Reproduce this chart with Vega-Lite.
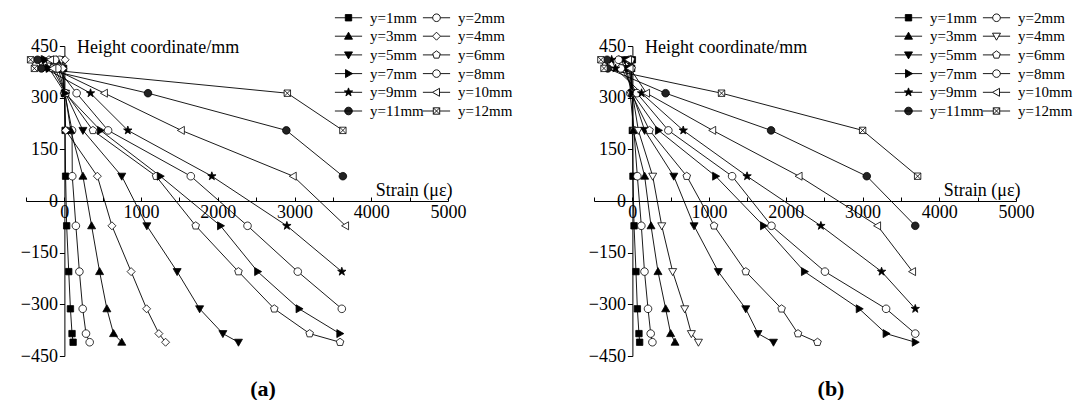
{
  "$schema": "https://vega.github.io/schema/vega-lite/v6.json",
  "background": "white",
  "padding": {"left": 20, "top": 10, "right": 0, "bottom": 0},
  "bounds": "flush",
  "spacing": 146,
  "config": {
    "font": "Liberation Serif, Times New Roman, serif",
    "view": {"stroke": null},
    "axis": {"grid": false, "domainColor": "black", "domainWidth": 1, "tickColor": "black", "tickWidth": 1, "labelColor": "black", "labelFont": "Liberation Serif, Times New Roman, serif", "labelFontSize": 18, "titleFont": "Liberation Serif, Times New Roman, serif", "titleFontSize": 18, "titleFontWeight": "normal", "titleColor": "black", "labelOverlap": false, "labelFlush": false},
    "legend": {"labelFont": "Liberation Serif, Times New Roman, serif", "labelFontSize": 15, "labelColor": "black", "symbolStrokeWidth": 0.9, "symbolOpacity": 1, "symbolSize": 64}
  },
  "datasets": {
    "a": [
      {"s":"y=1mm","x":-30,"h":410},{"s":"y=1mm","x":-10,"h":385},{"s":"y=1mm","x":0,"h":313},{"s":"y=1mm","x":10,"h":205},{"s":"y=1mm","x":16,"h":72},{"s":"y=1mm","x":30,"h":-72},{"s":"y=1mm","x":57,"h":-205},{"s":"y=1mm","x":79,"h":-313},{"s":"y=1mm","x":100,"h":-385},{"s":"y=1mm","x":114,"h":-410},
      {"s":"y=2mm","x":-60,"h":410},{"s":"y=2mm","x":-40,"h":385},{"s":"y=2mm","x":5,"h":313},{"s":"y=2mm","x":100,"h":205},{"s":"y=2mm","x":103,"h":72},{"s":"y=2mm","x":150,"h":-72},{"s":"y=2mm","x":196,"h":-205},{"s":"y=2mm","x":239,"h":-313},{"s":"y=2mm","x":282,"h":-385},{"s":"y=2mm","x":330,"h":-410},
      {"s":"y=3mm","x":-100,"h":410},{"s":"y=3mm","x":-80,"h":385},{"s":"y=3mm","x":10,"h":313},{"s":"y=3mm","x":83,"h":205},{"s":"y=3mm","x":242,"h":72},{"s":"y=3mm","x":355,"h":-72},{"s":"y=3mm","x":459,"h":-205},{"s":"y=3mm","x":554,"h":-313},{"s":"y=3mm","x":641,"h":-385},{"s":"y=3mm","x":748,"h":-410},
      {"s":"y=4mm","x":10,"h":410},{"s":"y=4mm","x":-20,"h":385},{"s":"y=4mm","x":0,"h":313},{"s":"y=4mm","x":18,"h":205},{"s":"y=4mm","x":430,"h":72},{"s":"y=4mm","x":620,"h":-72},{"s":"y=4mm","x":870,"h":-205},{"s":"y=4mm","x":1072,"h":-313},{"s":"y=4mm","x":1232,"h":-385},{"s":"y=4mm","x":1319,"h":-410},
      {"s":"y=5mm","x":-150,"h":410},{"s":"y=5mm","x":-120,"h":385},{"s":"y=5mm","x":15,"h":313},{"s":"y=5mm","x":242,"h":205},{"s":"y=5mm","x":748,"h":72},{"s":"y=5mm","x":1075,"h":-72},{"s":"y=5mm","x":1470,"h":-205},{"s":"y=5mm","x":1763,"h":-313},{"s":"y=5mm","x":2066,"h":-385},{"s":"y=5mm","x":2269,"h":-410},
      {"s":"y=6mm","x":-200,"h":410},{"s":"y=6mm","x":-160,"h":385},{"s":"y=6mm","x":20,"h":313},{"s":"y=6mm","x":372,"h":205},{"s":"y=6mm","x":1195,"h":72},{"s":"y=6mm","x":1712,"h":-72},{"s":"y=6mm","x":2269,"h":-205},{"s":"y=6mm","x":2736,"h":-313},{"s":"y=6mm","x":3197,"h":-385},{"s":"y=6mm","x":3593,"h":-410},
      {"s":"y=7mm","x":-250,"h":410},{"s":"y=7mm","x":-200,"h":385},{"s":"y=7mm","x":10,"h":313},{"s":"y=7mm","x":471,"h":205},{"s":"y=7mm","x":1250,"h":72},{"s":"y=7mm","x":2035,"h":-72},{"s":"y=7mm","x":2519,"h":-205},{"s":"y=7mm","x":3059,"h":-313},{"s":"y=7mm","x":3590,"h":-385},
      {"s":"y=8mm","x":-120,"h":410},{"s":"y=8mm","x":-90,"h":385},{"s":"y=8mm","x":160,"h":313},{"s":"y=8mm","x":570,"h":205},{"s":"y=8mm","x":1648,"h":72},{"s":"y=8mm","x":2387,"h":-72},{"s":"y=8mm","x":3042,"h":-205},{"s":"y=8mm","x":3616,"h":-313},
      {"s":"y=9mm","x":-300,"h":410},{"s":"y=9mm","x":-250,"h":385},{"s":"y=9mm","x":341,"h":313},{"s":"y=9mm","x":827,"h":205},{"s":"y=9mm","x":1922,"h":72},{"s":"y=9mm","x":2900,"h":-72},{"s":"y=9mm","x":3616,"h":-205},
      {"s":"y=10mm","x":-180,"h":410},{"s":"y=10mm","x":-150,"h":385},{"s":"y=10mm","x":522,"h":313},{"s":"y=10mm","x":1525,"h":205},{"s":"y=10mm","x":2983,"h":72},{"s":"y=10mm","x":3665,"h":-72},
      {"s":"y=11mm","x":-350,"h":410},{"s":"y=11mm","x":-300,"h":385},{"s":"y=11mm","x":1090,"h":313},{"s":"y=11mm","x":2893,"h":205},{"s":"y=11mm","x":3630,"h":72},
      {"s":"y=12mm","x":-440,"h":410},{"s":"y=12mm","x":-390,"h":385},{"s":"y=12mm","x":2906,"h":313},{"s":"y=12mm","x":3630,"h":205}
    ],
    "b": [
      {"s":"y=1mm","x":0,"h":410},{"s":"y=1mm","x":-10,"h":385},{"s":"y=1mm","x":0,"h":313},{"s":"y=1mm","x":0,"h":205},{"s":"y=1mm","x":8,"h":72},{"s":"y=1mm","x":22,"h":-72},{"s":"y=1mm","x":47,"h":-205},{"s":"y=1mm","x":65,"h":-313},{"s":"y=1mm","x":86,"h":-385},{"s":"y=1mm","x":95,"h":-410},
      {"s":"y=2mm","x":-40,"h":410},{"s":"y=2mm","x":-30,"h":385},{"s":"y=2mm","x":-30,"h":313},{"s":"y=2mm","x":20,"h":205},{"s":"y=2mm","x":65,"h":72},{"s":"y=2mm","x":117,"h":-72},{"s":"y=2mm","x":158,"h":-205},{"s":"y=2mm","x":204,"h":-313},{"s":"y=2mm","x":239,"h":-385},{"s":"y=2mm","x":261,"h":-410},
      {"s":"y=3mm","x":-20,"h":410},{"s":"y=3mm","x":-20,"h":385},{"s":"y=3mm","x":0,"h":313},{"s":"y=3mm","x":10,"h":205},{"s":"y=3mm","x":160,"h":72},{"s":"y=3mm","x":243,"h":-72},{"s":"y=3mm","x":334,"h":-205},{"s":"y=3mm","x":434,"h":-313},{"s":"y=3mm","x":499,"h":-385},{"s":"y=3mm","x":556,"h":-410},
      {"s":"y=4mm","x":-60,"h":410},{"s":"y=4mm","x":-40,"h":385},{"s":"y=4mm","x":0,"h":313},{"s":"y=4mm","x":78,"h":205},{"s":"y=4mm","x":265,"h":72},{"s":"y=4mm","x":383,"h":-72},{"s":"y=4mm","x":525,"h":-205},{"s":"y=4mm","x":682,"h":-313},{"s":"y=4mm","x":769,"h":-385},{"s":"y=4mm","x":861,"h":-410},
      {"s":"y=5mm","x":-100,"h":410},{"s":"y=5mm","x":-80,"h":385},{"s":"y=5mm","x":0,"h":313},{"s":"y=5mm","x":160,"h":205},{"s":"y=5mm","x":540,"h":72},{"s":"y=5mm","x":804,"h":-72},{"s":"y=5mm","x":1120,"h":-205},{"s":"y=5mm","x":1478,"h":-313},{"s":"y=5mm","x":1638,"h":-385},{"s":"y=5mm","x":1839,"h":-410},
      {"s":"y=6mm","x":-20,"h":410},{"s":"y=6mm","x":-10,"h":385},{"s":"y=6mm","x":-15,"h":313},{"s":"y=6mm","x":224,"h":205},{"s":"y=6mm","x":709,"h":72},{"s":"y=6mm","x":1065,"h":-72},{"s":"y=6mm","x":1478,"h":-205},{"s":"y=6mm","x":1945,"h":-313},{"s":"y=6mm","x":2159,"h":-385},{"s":"y=6mm","x":2413,"h":-410},
      {"s":"y=7mm","x":-140,"h":410},{"s":"y=7mm","x":-100,"h":385},{"s":"y=7mm","x":0,"h":313},{"s":"y=7mm","x":340,"h":205},{"s":"y=7mm","x":1085,"h":72},{"s":"y=7mm","x":1709,"h":-72},{"s":"y=7mm","x":2243,"h":-205},{"s":"y=7mm","x":2957,"h":-313},{"s":"y=7mm","x":3307,"h":-385},{"s":"y=7mm","x":3687,"h":-410},
      {"s":"y=8mm","x":-180,"h":410},{"s":"y=8mm","x":-150,"h":385},{"s":"y=8mm","x":60,"h":313},{"s":"y=8mm","x":469,"h":205},{"s":"y=8mm","x":1300,"h":72},{"s":"y=8mm","x":1813,"h":-72},{"s":"y=8mm","x":2510,"h":-205},{"s":"y=8mm","x":3307,"h":-313},{"s":"y=8mm","x":3687,"h":-385},
      {"s":"y=9mm","x":-270,"h":410},{"s":"y=9mm","x":-220,"h":385},{"s":"y=9mm","x":120,"h":313},{"s":"y=9mm","x":663,"h":205},{"s":"y=9mm","x":1495,"h":72},{"s":"y=9mm","x":2457,"h":-72},{"s":"y=9mm","x":3248,"h":-205},{"s":"y=9mm","x":3687,"h":-313},
      {"s":"y=10mm","x":-50,"h":410},{"s":"y=10mm","x":-30,"h":385},{"s":"y=10mm","x":185,"h":313},{"s":"y=10mm","x":1047,"h":205},{"s":"y=10mm","x":2173,"h":72},{"s":"y=10mm","x":3196,"h":-72},{"s":"y=10mm","x":3652,"h":-205},
      {"s":"y=11mm","x":-330,"h":410},{"s":"y=11mm","x":-320,"h":385},{"s":"y=11mm","x":433,"h":313},{"s":"y=11mm","x":1808,"h":205},{"s":"y=11mm","x":3055,"h":72},{"s":"y=11mm","x":3687,"h":-72},
      {"s":"y=12mm","x":-410,"h":410},{"s":"y=12mm","x":-370,"h":385},{"s":"y=12mm","x":1162,"h":313},{"s":"y=12mm","x":3001,"h":205},{"s":"y=12mm","x":3718,"h":72}
    ]
  },
  "hconcat": [
    {
      "width": 422, "height": 310,
      "data": {"name": "a"},
      "title": {"text": "(a)", "orient": "bottom", "anchor": "middle", "frame": "group", "dx": 26, "offset": 14, "fontSize": 22, "fontWeight": "bold", "font": "Liberation Serif, Times New Roman, serif", "color": "black"},
      "encoding": {
        "x": {"field": "x", "type": "quantitative", "scale": {"domain": [-500, 5000], "nice": false, "zero": false},
          "axis": {"values": [-500,0,500,1000,1500,2000,2500,3000,3500,4000,4500,5000], "format": "d", "labelExpr": "(datum.value >= 0 && datum.value % 1000 == 0) ? datum.label : ''", "offset": -155, "tickSize": -4, "labelPadding": 6, "title": "Strain (με)", "titleAngle": 0, "titleAlign": "right", "titleBaseline": "middle", "titleX": 426, "titleY": -11}},
        "y": {"field": "h", "type": "quantitative", "scale": {"domain": [-450, 450], "nice": false},
          "axis": {"values": [-450,-300,-150,0,150,300,450], "format": "d", "offset": -38.4, "tickSize": 5, "labelPadding": 2, "title": "Height coordinate/mm", "titleAngle": 0, "titleAlign": "left", "titleBaseline": "middle", "titleX": 12, "titleY": 1}}
      },
      "layer": [
        {"mark": {"type": "line", "color": "black", "strokeWidth": 0.9}, "encoding": {"detail": {"field": "s"}, "order": {"field": "h", "sort": "descending"}}},
        {"mark": {"type": "point", "size": 64, "strokeWidth": 0.8, "opacity": 1},
          "encoding": {
            "shape": {"field": "s", "type": "nominal", "legend": null,
              "scale": {"domain": ["y=1mm","y=2mm","y=3mm","y=4mm","y=5mm","y=6mm","y=7mm","y=8mm","y=9mm","y=10mm","y=11mm","y=12mm"],
                "range": ["M-0.8,-0.8H0.8V0.8H-0.8Z", "M-0.95,0A0.95,0.95,0,1,0,0.95,0A0.95,0.95,0,1,0,-0.95,0Z", "M0,-1L1,0.75H-1Z", "M0,-1L1,0L0,1L-1,0Z", "M0,1L1,-0.75H-1Z", "M0,-1L0.951,-0.309L0.588,0.809L-0.588,0.809L-0.951,-0.309Z", "M1,0L-0.75,-1V1Z", "M-0.95,0A0.95,0.95,0,1,0,0.95,0A0.95,0.95,0,1,0,-0.95,0Z", "M0,-1.1L0.26,-0.36L1.05,-0.34L0.42,0.14L0.65,0.89L0,0.44L-0.65,0.89L-0.42,0.14L-1.05,-0.34L-0.26,-0.36Z", "M-1,0L0.75,-1V1Z", "M-0.95,0A0.95,0.95,0,1,0,0.95,0A0.95,0.95,0,1,0,-0.95,0Z", "M-0.8,-0.8H0.8V0.8H-0.8ZM-0.8,-0.8L0.8,0.8M0.8,-0.8L-0.8,0.8"]}},
            "fill": {"field": "s", "type": "nominal", "legend": null,
              "scale": {"domain": ["y=1mm","y=2mm","y=3mm","y=4mm","y=5mm","y=6mm","y=7mm","y=8mm","y=9mm","y=10mm","y=11mm","y=12mm"],
                "range": ["black","white","black","white","black","white","black","white","black","white","#222","white"]}},
            "stroke": {"value": "black"}
          }},
        {"transform": [{"filter": "datum.h == -72 && datum.x > 1000 && datum.x < 3000"}],
          "mark": {"type": "point", "size": 64, "strokeWidth": 0.9, "opacity": 0},
          "encoding": {
            "shape": {"field": "s", "type": "nominal",
              "scale": {"domain": ["y=1mm","y=2mm","y=3mm","y=4mm","y=5mm","y=6mm","y=7mm","y=8mm","y=9mm","y=10mm","y=11mm","y=12mm"],
                "range": ["M-3.4,0H3.4M-0.8,-0.8H0.8V0.8H-0.8Z","M-3.4,0H-0.95M0.95,0H3.4M-0.95,0A0.95,0.95,0,1,0,0.95,0A0.95,0.95,0,1,0,-0.95,0Z","M-3.4,0H3.4M0,-1L1,0.75H-1Z","M-3.4,0H-1M1,0H3.4M0,-1L1,0L0,1L-1,0Z","M-3.4,0H3.4M0,1L1,-0.75H-1Z","M-3.4,0H-0.85M0.85,0H3.4M0,-1L0.951,-0.309L0.588,0.809L-0.588,0.809L-0.951,-0.309Z","M-3.4,0H3.4M1,0L-0.75,-1V1Z","M-3.4,0H-0.95M0.95,0H3.4M-0.95,0A0.95,0.95,0,1,0,0.95,0A0.95,0.95,0,1,0,-0.95,0Z","M-3.4,0H3.4M0,-1.1L0.26,-0.36L1.05,-0.34L0.42,0.14L0.65,0.89L0,0.44L-0.65,0.89L-0.42,0.14L-1.05,-0.34L-0.26,-0.36Z","M-3.4,0H-1M0.75,0H3.4M-1,0L0.75,-1V1Z","M-3.4,0H3.4M-0.95,0A0.95,0.95,0,1,0,0.95,0A0.95,0.95,0,1,0,-0.95,0Z","M-3.4,0H-0.8M0.8,0H3.4M-0.8,-0.8H0.8V0.8H-0.8ZM-0.8,-0.8L0.8,0.8M0.8,-0.8L-0.8,0.8"]},
              "legend": {"title": null, "orient": "none", "legendX": 315, "legendY": -36, "columns": 2, "direction": "horizontal", "labelOffset": 14, "rowPadding": 2.7, "columnPadding": -3}},
            "fill": {"field": "s", "type": "nominal",
              "scale": {"domain": ["y=1mm","y=2mm","y=3mm","y=4mm","y=5mm","y=6mm","y=7mm","y=8mm","y=9mm","y=10mm","y=11mm","y=12mm"],
                "range": ["black","white","black","white","black","white","black","white","black","white","#222","white"]}},
            "stroke": {"field": "s", "type": "nominal",
              "scale": {"domain": ["y=1mm","y=2mm","y=3mm","y=4mm","y=5mm","y=6mm","y=7mm","y=8mm","y=9mm","y=10mm","y=11mm","y=12mm"],
                "range": ["black","black","black","black","black","black","black","black","black","black","black","black"]}}
          }}
      ],
      "resolve": {"scale": {"shape": "independent", "fill": "independent", "stroke": "independent"}, "legend": {"shape": "independent", "fill": "independent", "stroke": "independent"}}
    },
    {
      "width": 422, "height": 310,
      "data": {"name": "b"},
      "title": {"text": "(b)", "orient": "bottom", "anchor": "middle", "frame": "group", "dx": 26, "offset": 14, "fontSize": 22, "fontWeight": "bold", "font": "Liberation Serif, Times New Roman, serif", "color": "black"},
      "encoding": {
        "x": {"field": "x", "type": "quantitative", "scale": {"domain": [-500, 5000], "nice": false, "zero": false},
          "axis": {"values": [-500,0,500,1000,1500,2000,2500,3000,3500,4000,4500,5000], "format": "d", "labelExpr": "(datum.value >= 0 && datum.value % 1000 == 0) ? datum.label : ''", "offset": -155, "tickSize": -4, "labelPadding": 6, "title": "Strain (με)", "titleAngle": 0, "titleAlign": "right", "titleBaseline": "middle", "titleX": 426, "titleY": -11}},
        "y": {"field": "h", "type": "quantitative", "scale": {"domain": [-450, 450], "nice": false},
          "axis": {"values": [-450,-300,-150,0,150,300,450], "format": "d", "offset": -38.4, "tickSize": 5, "labelPadding": 2, "title": "Height coordinate/mm", "titleAngle": 0, "titleAlign": "left", "titleBaseline": "middle", "titleX": 12, "titleY": 1}}
      },
      "layer": [
        {"mark": {"type": "line", "color": "black", "strokeWidth": 0.9}, "encoding": {"detail": {"field": "s"}, "order": {"field": "h", "sort": "descending"}}},
        {"mark": {"type": "point", "size": 64, "strokeWidth": 0.8, "opacity": 1},
          "encoding": {
            "shape": {"field": "s", "type": "nominal", "legend": null,
              "scale": {"domain": ["y=1mm","y=2mm","y=3mm","y=4mm","y=5mm","y=6mm","y=7mm","y=8mm","y=9mm","y=10mm","y=11mm","y=12mm"],
                "range": ["M-0.8,-0.8H0.8V0.8H-0.8Z", "M-0.95,0A0.95,0.95,0,1,0,0.95,0A0.95,0.95,0,1,0,-0.95,0Z", "M0,-1L1,0.75H-1Z", "M0,1L1,-0.75H-1Z", "M0,1L1,-0.75H-1Z", "M0,-1L0.951,-0.309L0.588,0.809L-0.588,0.809L-0.951,-0.309Z", "M1,0L-0.75,-1V1Z", "M-0.95,0A0.95,0.95,0,1,0,0.95,0A0.95,0.95,0,1,0,-0.95,0Z", "M0,-1.1L0.26,-0.36L1.05,-0.34L0.42,0.14L0.65,0.89L0,0.44L-0.65,0.89L-0.42,0.14L-1.05,-0.34L-0.26,-0.36Z", "M-1,0L0.75,-1V1Z", "M-0.95,0A0.95,0.95,0,1,0,0.95,0A0.95,0.95,0,1,0,-0.95,0Z", "M-0.8,-0.8H0.8V0.8H-0.8ZM-0.8,-0.8L0.8,0.8M0.8,-0.8L-0.8,0.8"]}},
            "fill": {"field": "s", "type": "nominal", "legend": null,
              "scale": {"domain": ["y=1mm","y=2mm","y=3mm","y=4mm","y=5mm","y=6mm","y=7mm","y=8mm","y=9mm","y=10mm","y=11mm","y=12mm"],
                "range": ["black","white","black","white","black","white","black","white","black","white","#222","white"]}},
            "stroke": {"value": "black"}
          }},
        {"transform": [{"filter": "datum.h == -72 && datum.x > 1000 && datum.x < 3000"}],
          "mark": {"type": "point", "size": 64, "strokeWidth": 0.9, "opacity": 0},
          "encoding": {
            "shape": {"field": "s", "type": "nominal",
              "scale": {"domain": ["y=1mm","y=2mm","y=3mm","y=4mm","y=5mm","y=6mm","y=7mm","y=8mm","y=9mm","y=10mm","y=11mm","y=12mm"],
                "range": ["M-3.4,0H3.4M-0.8,-0.8H0.8V0.8H-0.8Z","M-3.4,0H-0.95M0.95,0H3.4M-0.95,0A0.95,0.95,0,1,0,0.95,0A0.95,0.95,0,1,0,-0.95,0Z","M-3.4,0H3.4M0,-1L1,0.75H-1Z","M-3.4,0H-0.57M0.57,0H3.4M0,1L1,-0.75H-1Z","M-3.4,0H3.4M0,1L1,-0.75H-1Z","M-3.4,0H-0.85M0.85,0H3.4M0,-1L0.951,-0.309L0.588,0.809L-0.588,0.809L-0.951,-0.309Z","M-3.4,0H3.4M1,0L-0.75,-1V1Z","M-3.4,0H-0.95M0.95,0H3.4M-0.95,0A0.95,0.95,0,1,0,0.95,0A0.95,0.95,0,1,0,-0.95,0Z","M-3.4,0H3.4M0,-1.1L0.26,-0.36L1.05,-0.34L0.42,0.14L0.65,0.89L0,0.44L-0.65,0.89L-0.42,0.14L-1.05,-0.34L-0.26,-0.36Z","M-3.4,0H-1M0.75,0H3.4M-1,0L0.75,-1V1Z","M-3.4,0H3.4M-0.95,0A0.95,0.95,0,1,0,0.95,0A0.95,0.95,0,1,0,-0.95,0Z","M-3.4,0H-0.8M0.8,0H3.4M-0.8,-0.8H0.8V0.8H-0.8ZM-0.8,-0.8L0.8,0.8M0.8,-0.8L-0.8,0.8"]},
              "legend": {"title": null, "orient": "none", "legendX": 307, "legendY": -36, "columns": 2, "direction": "horizontal", "labelOffset": 14, "rowPadding": 2.7, "columnPadding": -3}},
            "fill": {"field": "s", "type": "nominal",
              "scale": {"domain": ["y=1mm","y=2mm","y=3mm","y=4mm","y=5mm","y=6mm","y=7mm","y=8mm","y=9mm","y=10mm","y=11mm","y=12mm"],
                "range": ["black","white","black","white","black","white","black","white","black","white","#222","white"]}},
            "stroke": {"field": "s", "type": "nominal",
              "scale": {"domain": ["y=1mm","y=2mm","y=3mm","y=4mm","y=5mm","y=6mm","y=7mm","y=8mm","y=9mm","y=10mm","y=11mm","y=12mm"],
                "range": ["black","black","black","black","black","black","black","black","black","black","black","black"]}}
          }}
      ],
      "resolve": {"scale": {"shape": "independent", "fill": "independent", "stroke": "independent"}, "legend": {"shape": "independent", "fill": "independent", "stroke": "independent"}}
    }
  ],
  "resolve": {"scale": {"shape": "independent", "fill": "independent", "stroke": "independent"}, "legend": {"shape": "independent", "fill": "independent", "stroke": "independent"}}
}
